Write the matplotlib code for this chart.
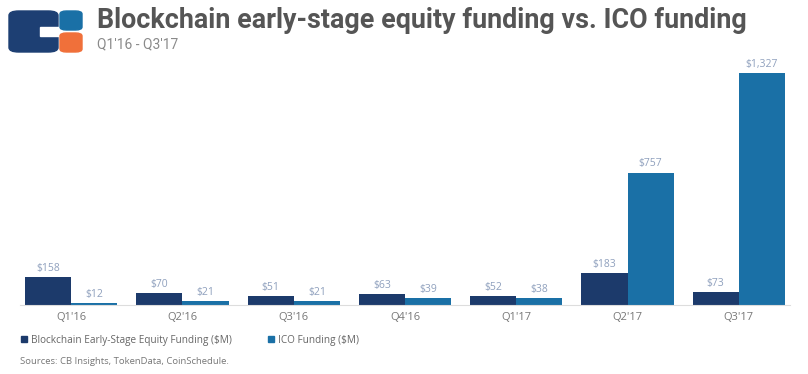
import numpy as np
import matplotlib.pyplot as plt
from matplotlib.patches import FancyBboxPatch, Rectangle, Patch

quarters = ["Q1'16", "Q2'16", "Q3'16", "Q4'16", "Q1'17", "Q2'17", "Q3'17"]
equity = [158, 70, 51, 63, 52, 183, 73]
ico = [12, 21, 21, 39, 38, 757, 1327]

navy = '#1c3a6b'
blue = '#1a70a6'
label_col = '#8fa0bd'
small_font = ['Open Sans', 'DejaVu Sans']

plt.rcParams['font.family'] = ['Roboto', 'DejaVu Sans']

fig = plt.figure(figsize=(8.08, 3.74), dpi=100)
ax = fig.add_axes([20 / 808, 1 - 305 / 374, 770 / 808, 245 / 374])

x = np.arange(len(quarters))
w = 0.415
b1 = ax.bar(x - w / 2, equity, w, color=navy)
b2 = ax.bar(x + w / 2, ico, w, color=blue)

for bars, vals in ((b1, equity), (b2, ico)):
    for r, v in zip(bars, vals):
        ax.text(r.get_x() + r.get_width() / 2, v + 18, f"${v:,}",
                ha='center', va='bottom', fontsize=7.5, color=label_col,
                family=small_font)

ax.set_xlim(-0.46, 6.46)
ax.set_ylim(0, 1400)
ax.set_xticks(x)
ax.set_xticklabels(quarters, fontsize=8, color='#777777', family=small_font)
ax.tick_params(axis='x', length=0, pad=5)
ax.set_yticks([])
for s in ['top', 'right', 'left']:
    ax.spines[s].set_visible(False)
ax.spines['bottom'].set_color('#dddddd')

# logo
fig.patches.append(FancyBboxPatch((9 / 808, 1 - 52 / 374), 49 / 808, 41 / 374,
                                  boxstyle='round,pad=0,rounding_size=0.012',
                                  transform=fig.transFigure, color='#1d3f73'))
fig.patches.append(Rectangle((40 / 808, 1 - 36 / 374), 20 / 808, 9 / 374,
                             transform=fig.transFigure, color='white'))
fig.patches.append(FancyBboxPatch((60 / 808, 1 - 30 / 374), 22 / 808, 19 / 374,
                                  boxstyle='round,pad=0,rounding_size=0.008',
                                  transform=fig.transFigure, color='#1a70a6'))
fig.patches.append(FancyBboxPatch((60 / 808, 1 - 52 / 374), 22 / 808, 19 / 374,
                                  boxstyle='round,pad=0,rounding_size=0.008',
                                  transform=fig.transFigure, color='#f0703a'))

fig.text(97 / 808, 1 - 20 / 374, "Blockchain early-stage equity funding vs. ICO funding",
         fontsize=19.4, fontweight='bold', color='#555555', va='center')
fig.text(97 / 808, 1 - 44 / 374, "Q1'16 - Q3'17", fontsize=10, color='#8a8a8a', va='center')

handles = [Patch(color=navy, label="Blockchain Early-Stage Equity Funding ($M)"),
           Patch(color=blue, label="ICO Funding ($M)")]
fig.legend(handles=handles, loc='center left', bbox_to_anchor=(12 / 808, 1 - 340 / 374),
           ncol=2, frameon=False, handlelength=0.6, handleheight=0.6,
           handletextpad=0.4, columnspacing=3.6, labelcolor='#666666',
           prop={'family': small_font, 'size': 7.2})
fig.text(20 / 808, 1 - 361 / 374, "Sources: CB Insights, TokenData, CoinSchedule.",
         fontsize=6.8, color='#777777', va='center', family=small_font)

fig.savefig('out.png', dpi=100)
